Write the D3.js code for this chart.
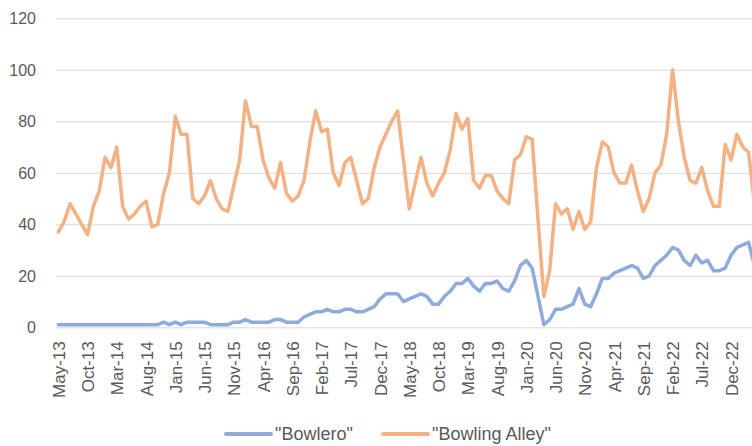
<!DOCTYPE html>
<html>
<head>
<meta charset="utf-8">
<script src="https://cdn.jsdelivr.net/npm/d3@7"></script>
<style>
body { margin: 0; background: #fff; }
svg { display: block; font-family: "Liberation Sans", Arial, sans-serif; }
.grid line { stroke: #d9d9d9; stroke-width: 1px; }
.grid .domain { display: none; }
.axisLabel text { fill: #595959; }
.series { fill: none; stroke-width: 3.5px; stroke-linejoin: round; stroke-linecap: round; }
</style>
</head>
<body>
<svg id="chart" width="752" height="446"></svg>
<script>
// monthly search interest, May 2013 .. Apr 2023
var seriesNames = [ '"Bowlero"' , '"Bowling Alley"' ];
var seriesColors = [ "#8faadc" , "#f4b183" ];

var bowlero = [
  1, 1, 1, 1, 1, 1, 1, 1, 1, 1, 1, 1, 1, 1, 1, 1, 1, 1, 2, 1,
  2, 1, 2, 2, 2, 2, 1, 1, 1, 1, 2, 2, 3, 2, 2, 2, 2, 3, 3, 2,
  2, 2, 4, 5, 6, 6, 7, 6, 6, 7, 7, 6, 6, 7, 8, 11, 13, 13, 13, 10,
  11, 12, 13, 12, 9, 9, 12, 14, 17, 17, 19, 16, 14, 17, 17, 18, 15, 14, 18, 24,
  26, 23, 12, 1, 3, 7, 7, 8, 9, 15, 9, 8, 13, 19, 19, 21, 22, 23, 24, 23,
  19, 20, 24, 26, 28, 31, 30, 26, 24, 28, 25, 26, 22, 22, 23, 28, 31, 32, 33, 24
];

var bowlingAlley = [
  37, 41, 48, 44, 40, 36, 47, 53, 66, 62, 70, 47, 42, 44, 47, 49, 39, 40, 52, 60,
  82, 75, 75, 50, 48, 51, 57, 50, 46, 45, 55, 65, 88, 78, 78, 65, 58, 54, 64, 52,
  49, 51, 57, 72, 84, 76, 77, 60, 55, 64, 66, 57, 48, 50, 62, 70, 75, 80, 84, 65,
  46, 56, 66, 56, 51, 56, 60, 69, 83, 77, 81, 57, 54, 59, 59, 53, 50, 48, 65, 67,
  74, 73, 42, 12, 22, 48, 44, 46, 38, 45, 38, 41, 62, 72, 70, 60, 56, 56, 63, 53,
  45, 50, 60, 63, 75, 100, 80, 66, 57, 56, 62, 53, 47, 47, 71, 65, 75, 70, 68, 48
];

var tickLabels = [
  "May-13", "Oct-13", "Mar-14", "Aug-14", "Jan-15", "Jun-15", "Nov-15", "Apr-16",
  "Sep-16", "Feb-17", "Jul-17", "Dec-17", "May-18", "Oct-18", "Mar-19", "Aug-19",
  "Jan-20", "Jun-20", "Nov-20", "Apr-21", "Sep-21", "Feb-22", "Jul-22", "Dec-22"
];

var yTicks = [ 0, 20, 40, 60, 80, 100, 120 ];

( function() {
  var fmt = d3.timeFormat( "%b-%y" );
  var months = d3.timeMonth.range( new Date( 2013 , 4 , 1 ) , new Date( 2023 , 4 , 1 ) ).map( fmt );

  var svg = d3.select( "#chart" );

  // Excel puts the first point on the axis; the right side of the picture is cropped
  var x = d3.scalePoint()
            .domain( months )
            .range( [ 58.3 , 58.3 + 5.85 * ( months.length - 1 ) ] );

  var y = d3.scaleLinear()
            .domain( [ 0 , 120 ] )
            .range( [ 327.3 , 18.3 ] );

  // gridlines
  svg.append( "g" )
     .attr( "class" , "grid" )
     .attr( "transform" , "translate(56,0)" )
     .call( d3.axisLeft( y ).tickValues( yTicks ).tickSize( -700 ).tickFormat( "" ) );

  // y labels
  svg.append( "g" )
     .attr( "class" , "axisLabel" )
     .selectAll( "text" )
     .data( yTicks )
     .join( "text" )
       .attr( "x" , 36 )
       .attr( "y" , function( d ) { return y( d ); } )
       .attr( "dy" , "0.36em" )
       .attr( "text-anchor" , "end" )
       .style( "font-size" , "16px" )
       .text( function( d ) { return d; } );

  // x labels, rotated
  var xAxis = svg.append( "g" )
     .attr( "class" , "axisLabel" )
     .attr( "transform" , "translate(0,327.3)" )
     .call( d3.axisBottom( x ).tickValues( tickLabels ).tickSize( 0 ) );
  xAxis.select( ".domain" ).remove();
  xAxis.selectAll( "text" )
     .attr( "transform" , "rotate(-90)" )
     .attr( "x" , -14 )
     .attr( "y" , 0 )
     .attr( "dy" , "0.36em" )
     .attr( "text-anchor" , "end" )
     .style( "font-size" , "17px" )
     .style( "font-family" , "'Liberation Sans', Arial, sans-serif" );

  var line = d3.line()
               .x( function( d , i ) { return x( months[i] ); } )
               .y( function( d ) { return y( d ); } );

  var all = [ bowlero , bowlingAlley ];
  svg.selectAll( "path.series" )
     .data( all )
     .join( "path" )
       .attr( "class" , "series" )
       .attr( "stroke" , function( d , i ) { return seriesColors[i]; } )
       .attr( "d" , line );

  // legend
  var legendX = [ 226 , 383 ];
  var legend = svg.append( "g" ).selectAll( "g" )
     .data( seriesNames )
     .join( "g" )
       .attr( "transform" , function( d , i ) { return "translate(" + legendX[i] + ",434)"; } );
  legend.append( "line" )
     .attr( "x1" , 0 ).attr( "x2" , 45 )
     .attr( "stroke" , function( d , i ) { return seriesColors[i]; } )
     .attr( "stroke-width" , 4 )
     .attr( "stroke-linecap" , "round" );
  legend.append( "text" )
     .attr( "x" , 49 )
     .attr( "dy" , "0.36em" )
     .attr( "fill" , "#595959" )
     .style( "font-size" , "18px" )
     .text( function( d ) { return d; } );
} )();
</script>
</body>
</html>
